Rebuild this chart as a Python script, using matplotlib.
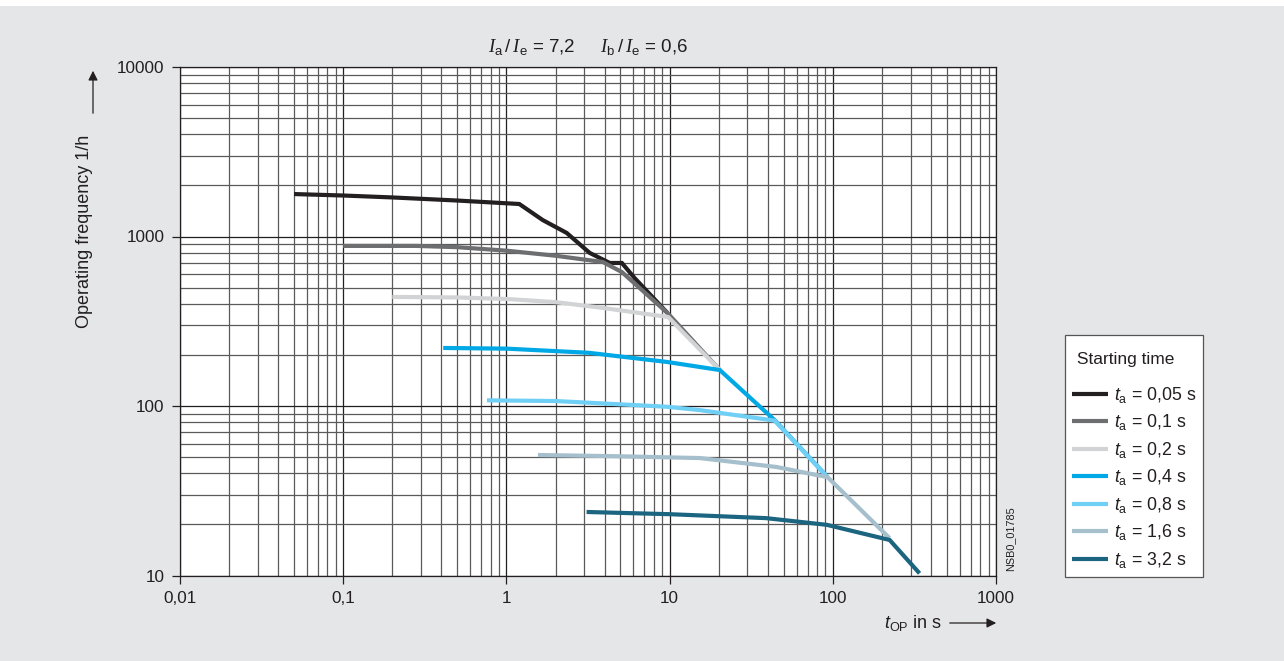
import numpy as np
import matplotlib
matplotlib.use("Agg")
import matplotlib.pyplot as plt
from matplotlib.ticker import LogLocator, FixedLocator, NullFormatter
from matplotlib.patches import Rectangle

plt.rcParams['font.family'] = ['Liberation Sans', 'DejaVu Sans']
plt.rcParams['mathtext.fontset'] = 'custom'
plt.rcParams['mathtext.rm'] = 'Liberation Sans'
plt.rcParams['mathtext.it'] = 'Liberation Sans:italic'
plt.rcParams['mathtext.cal'] = 'Liberation Serif:italic'

ink = '#231f20'

# starting time curves (t_OP in s, operating frequency 1/h)
t005_x = [0.05, 0.1, 0.2, 0.5, 1.2, 1.67, 2.34, 3.24, 4.3, 5.1, 6.1, 9.7]
t005_y = [1780, 1745, 1700, 1630, 1555, 1250, 1050, 800, 698, 698, 569, 354]

t01_x = [0.1, 0.28, 0.5, 1.0, 2.0, 3.9, 5.1, 9.7, 20.3]
t01_y = [880, 880, 865, 825, 770, 707, 617, 354, 163]

t02_x = [0.2, 0.5, 1.0, 2.0, 3.9, 9.8, 20.3]
t02_y = [440, 437, 428, 410, 379, 335, 163]

t04_x = [0.41, 1.0, 3.2, 9.6, 20.3, 44, 93]
t04_y = [220, 218, 206, 182, 163, 82.6, 38]

t08_x = [0.76, 2.0, 9.6, 15.3, 31, 44, 93]
t08_y = [108, 107, 99, 94.6, 86, 82, 38]

t16_x = [1.56, 5.0, 15.3, 45, 93, 223]
t16_y = [51.4, 50.5, 49.3, 43.7, 38, 16.6]

t32_x = [3.1, 10, 39, 92, 223, 340]
t32_y = [23.7, 23.0, 21.8, 19.9, 16.2, 10.3]

labels = ['0,05', '0,1', '0,2', '0,4', '0,8', '1,6', '3,2']
colors = [ink, '#6d6e70', '#d1d3d4', '#00a8e6', '#6fcff5', '#a5bfcd', '#1b6580']
curves = [(t005_x, t005_y), (t01_x, t01_y), (t02_x, t02_y), (t04_x, t04_y),
          (t08_x, t08_y), (t16_x, t16_y), (t32_x, t32_y)]

x_ticks = [0.01, 0.1, 1, 10, 100, 1000]
x_ticklabels = ['0,01', '0,1', '1', '10', '100', '1000']
y_ticks = [10, 100, 1000, 10000]
y_ticklabels = ['10', '100', '1000', '10000']

W, H = 1284, 661
fig = plt.figure(figsize=(W / 100, H / 100), dpi=100)
fig.patch.set_facecolor('#e5e6e8')
fig.patches.append(Rectangle((0, 1 - 6 / H), 1, 6 / H, transform=fig.transFigure,
                             facecolor='white', edgecolor='none', zorder=-1))

ax = fig.add_axes([180 / W, 1 - 575.5 / H, 816 / W, 508.5 / H])
ax.set_facecolor('white')
ax.set_xscale('log')
ax.set_yscale('log')
ax.set_xlim(0.01, 1000)
ax.set_ylim(10, 10000)

ax.xaxis.set_major_locator(FixedLocator(x_ticks))
ax.yaxis.set_major_locator(FixedLocator(y_ticks))
ax.xaxis.set_minor_locator(LogLocator(base=10, subs=np.arange(2, 10)))
ax.yaxis.set_minor_locator(LogLocator(base=10, subs=np.arange(2, 10)))
ax.xaxis.set_minor_formatter(NullFormatter())
ax.yaxis.set_minor_formatter(NullFormatter())
ax.set_xticklabels(x_ticklabels)
ax.set_yticklabels(y_ticklabels)

ax.tick_params(which='major', direction='out', length=5.5, width=0.9, color=ink,
               labelsize=12.3, labelcolor=ink)
ax.tick_params(axis='y', which='major', pad=5.5)
ax.tick_params(axis='x', which='major', pad=6)
ax.tick_params(which='minor', length=0)

ax.grid(which='major', color=ink, lw=0.9)
ax.grid(which='minor', color='#5a5a5a', lw=0.9)
ax.set_axisbelow(True)
for s in ax.spines.values():
    s.set_color(ink)
    s.set_linewidth(0.9)

for (xs, ys), lab, c in zip(curves, labels, colors):
    ax.plot(xs, ys, color=c, lw=3, solid_capstyle='butt', solid_joinstyle='miter',
            label=r'$\mathit{t}_\mathrm{a}$ = ' + lab + ' s', zorder=3)

# axis titles with arrows
ax.set_ylabel('Operating frequency 1/h', fontsize=13, color=ink)
ax.yaxis.set_label_coords(-87 / 816, 0.677)
ax.annotate('', xy=(93 / W, 1 - 68 / H), xytext=(93 / W, 1 - 116 / H),
            xycoords='figure fraction', textcoords='figure fraction',
            arrowprops=dict(arrowstyle='-|>', color=ink, lw=0.9, mutation_scale=14))

fig.text(942 / W, 1 - 628 / H, r'$\mathit{t}_\mathrm{OP}$ in s', fontsize=13,
         color=ink, ha='right', va='baseline')
ax.annotate('', xy=(999 / W, 1 - 623 / H), xytext=(947 / W, 1 - 623 / H),
            xycoords='figure fraction', textcoords='figure fraction',
            arrowprops=dict(arrowstyle='-|>', color=ink, lw=0.9, mutation_scale=14))

fig.text(588 / W, 1 - 47 / H,
         r'$\mathcal{I}_\mathrm{a}\,/\,\mathcal{I}_\mathrm{e}$ = 7,2     '
         r'$\mathcal{I}_\mathrm{b}\,/\,\mathcal{I}_\mathrm{e}$ = 0,6',
         fontsize=13.5, color=ink, ha='center', va='center')

fig.text(1010 / W, 1 - 539 / H, 'NSB0_01785', fontsize=7.8, color=ink,
         rotation=90, ha='center', va='center')

leg = fig.legend(loc='upper left', bbox_to_anchor=(1065 / W, 1 - 335 / H),
                 bbox_transform=fig.transFigure, title='\n Starting time\n',
                 fontsize=12.8, title_fontsize=12.5, frameon=True, fancybox=False,
                 framealpha=1, edgecolor='#555555', borderaxespad=0,
                 handlelength=2.0, handletextpad=0.35, borderpad=0.4,
                 labelspacing=0.42, alignment='left')
leg.get_frame().set_linewidth(0.9)
leg.get_title().set_linespacing(0.6)
leg.get_title().set_color(ink)
for t in leg.get_texts():
    t.set_color(ink)

fig.savefig('out.png', dpi=100, facecolor=fig.get_facecolor())
